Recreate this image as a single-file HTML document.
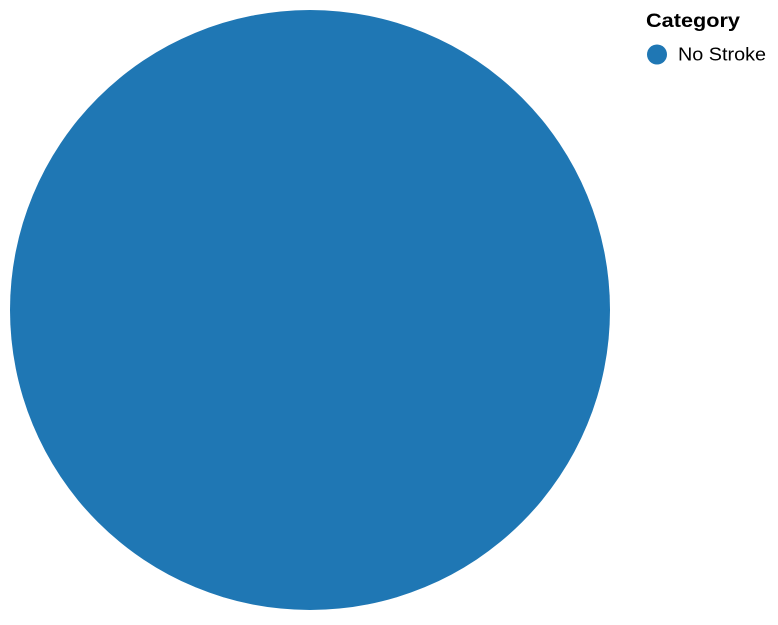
<!DOCTYPE html>
<html>
<head>
<meta charset="utf-8">
<style>
  html, body { margin: 0; padding: 0; background: #fff; }
  body { width: 778px; height: 620px; overflow: hidden; font-family: "Liberation Sans", Arial, sans-serif; }
</style>
</head>
<body>
<svg id="chart" width="778" height="620" xmlns="http://www.w3.org/2000/svg">
  <g id="slices"></g>
  <g id="legend">
    <text x="646" y="27" font-size="19" font-weight="bold" fill="#000" textLength="94" lengthAdjust="spacingAndGlyphs">Category</text>
    <g id="legend-entries"></g>
  </g>
</svg>
<script>
const categories = ["No Stroke"];
const values = [4861];
const colors = ["#1f77b4", "#ff7f0e", "#2ca02c", "#d62728", "#9467bd"];

const cx = 310, cy = 310, r = 300;
const ns = "http://www.w3.org/2000/svg";
const total = values.reduce((a, b) => a + b, 0);
const slices = document.getElementById("slices");

function pt(a) { return [cx + r * Math.sin(a), cy - r * Math.cos(a)]; }
function arcPath(a0, a1) {
  const p0 = pt(a0), p1 = pt(a1);
  const large = (a1 - a0) > Math.PI ? 1 : 0;
  return "M" + cx + "," + cy + "L" + p0[0] + "," + p0[1] +
    "A" + r + "," + r + " 0 " + large + " 1 " + p1[0] + "," + p1[1] + "Z";
}

let ang = 0;
values.forEach((v, i) => {
  const span = (v / total) * 2 * Math.PI;
  let el;
  if (span >= 2 * Math.PI - 1e-9) {
    el = document.createElementNS(ns, "circle");
    el.setAttribute("cx", cx);
    el.setAttribute("cy", cy);
    el.setAttribute("r", r);
  } else {
    el = document.createElementNS(ns, "path");
    el.setAttribute("d", arcPath(ang, ang + span));
  }
  el.setAttribute("fill", colors[i % colors.length]);
  
  
  slices.appendChild(el);
  ang += span;
});

const le = document.getElementById("legend-entries");
categories.forEach((c, i) => {
  const y = 54.5 + i * 24;
  const g = document.createElementNS(ns, "g");
  
  
  const dot = document.createElementNS(ns, "circle");
  dot.setAttribute("cx", 657);
  dot.setAttribute("cy", y);
  dot.setAttribute("r", 10);
  dot.setAttribute("fill", colors[i % colors.length]);
  
  
  const t = document.createElementNS(ns, "text");
  t.setAttribute("x", 678);
  t.setAttribute("y", y + 6);
  t.setAttribute("font-size", "18");
  t.setAttribute("fill", "#000");
  t.setAttribute("textLength", "88");
  t.setAttribute("lengthAdjust", "spacingAndGlyphs");
  t.textContent = c;
  
  
  g.appendChild(dot);
  g.appendChild(t);
  le.appendChild(g);
});
</script>
</body>
</html>
